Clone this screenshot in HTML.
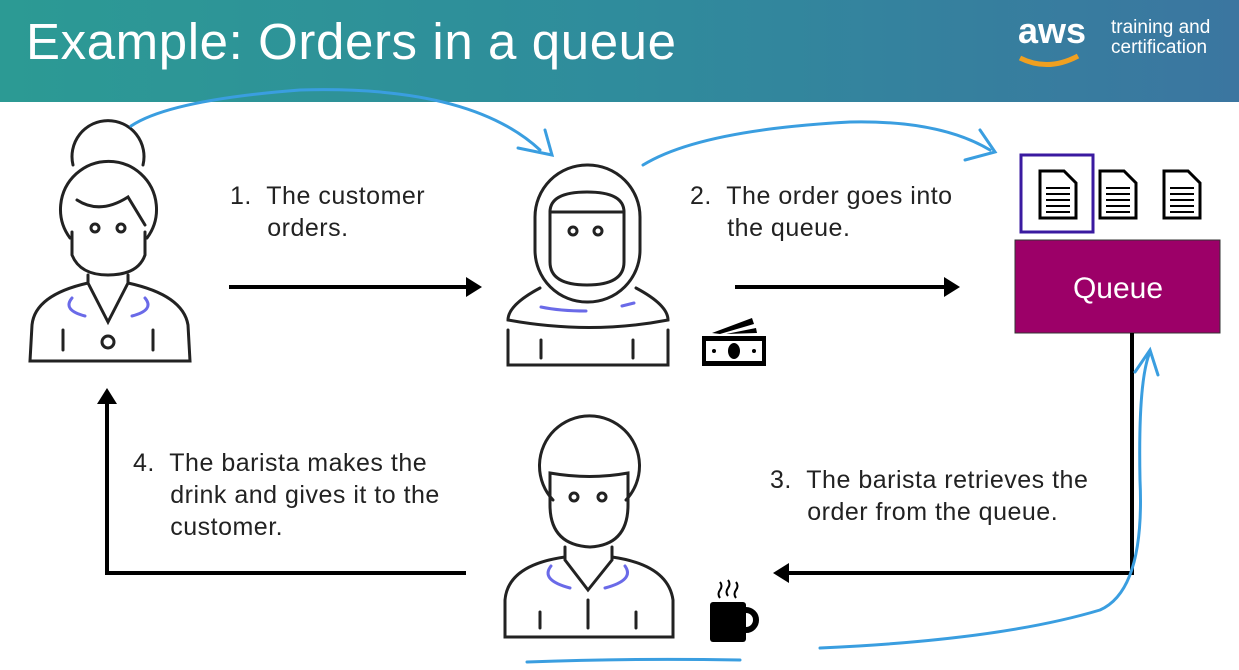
<!DOCTYPE html>
<html><head><meta charset="utf-8"><style>
body{margin:0;width:1239px;height:670px;overflow:hidden;background:#fff;font-family:"Liberation Sans",sans-serif}
.hdr{position:absolute;left:0;top:0;width:1239px;height:102px;background:linear-gradient(90deg,#2c9a94 0%,#2f8c9c 50%,#3b76a0 100%)}
.t{position:absolute;color:#222;font-size:25px;line-height:32px;letter-spacing:0.5px}
</style></head><body>
<div class="hdr"></div>
<div style="position:absolute;left:26px;top:12px;color:#fff;font-size:51px;letter-spacing:0.6px">Example: Orders in a queue</div>
<div style="position:absolute;left:1018px;top:10px;color:#fff;font-size:36px;font-weight:bold">aws</div>
<div style="position:absolute;left:1111px;top:18px;color:#fff;font-size:19px;line-height:20px">training and<br>certification</div>
<svg style="position:absolute;left:0;top:0" width="1239" height="670">
<path d="M1020 58 Q1048 72 1078 56" stroke="#f0a020" stroke-width="5" fill="none"/>
<g stroke="#222" stroke-width="3" fill="none" stroke-linecap="round">
<!-- customer -->
<path d="M73 165 A36 36 0 1 1 143 165"/>
<path d="M70 238 A48 48 0 1 1 147 238"/>
<path d="M77 200 Q100 215 128 197 L145 225"/>
<path d="M72 232 L72 255 Q80 275 108 275 Q138 275 145 255 L145 232"/>
<path d="M88 275 V283 L108 322 L128 283 V275"/>
<path d="M88 283 Q35 295 32 325 L30 361 H190 L188 325 Q183 295 128 283"/>
<path d="M63 330 V350 M153 330 V350"/><circle cx="108" cy="342" r="6"/>
<circle cx="95" cy="228" r="4"/><circle cx="121" cy="228" r="4"/>
<!-- cashier -->
<rect x="535" y="165" width="105" height="137" rx="52"/>
<path d="M550 212 H624 V262 Q624 285 587 285 Q550 285 550 262 Z"/>
<path d="M550 212 Q550 192 587 192 Q624 192 624 212"/>
<circle cx="573" cy="231" r="4"/><circle cx="598" cy="231" r="4"/>
<path d="M540 288 Q508 305 508 320 Q590 335 668 320 Q668 305 636 288"/>
<path d="M508 330 V365 H668 V330"/>
<path d="M541 340 V358 M633 340 V358"/>
<!-- barista -->
<path d="M553 500 A50 50 0 1 1 626 500"/>
<path d="M550 473 Q590 480 628 473 V505 Q628 545 590 547 Q550 545 550 505 Z"/>
<circle cx="574" cy="497" r="4"/><circle cx="602" cy="497" r="4"/>
<path d="M565 547 V560 L588 590 L612 560 V547"/>
<path d="M565 557 Q508 565 505 600 V637 H673 V600 Q668 565 612 557"/>
<path d="M540 612 V628 M588 600 V628 M636 612 V628"/>
</g>
<g stroke="#6a6ae8" stroke-width="3" fill="none" stroke-linecap="round">
<path d="M72 298 Q62 310 85 316 M145 298 Q155 310 132 316"/>
<path d="M541 307 Q560 311 586 311 M622 306 L634 303"/>
<path d="M551 566 Q540 580 570 588 M625 566 Q635 580 605 588"/>
</g>
<!-- money -->
<rect x="702" y="336" width="64" height="30" fill="#000"/>
<rect x="706" y="341" width="56" height="20" fill="#fff"/>
<ellipse cx="734" cy="351" rx="6" ry="8" fill="#000"/>
<circle cx="714" cy="351" r="2" fill="#000"/><circle cx="754" cy="351" r="2" fill="#000"/>
<path d="M712 333 L752 318 L754 324 L720 334 Z M726 334 L756 328 L757 333 Z" fill="#000"/>
<!-- coffee -->
<rect x="710" y="602" width="36" height="40" rx="3" fill="#000"/>
<path d="M746 610 A10 10 0 0 1 746 630" stroke="#000" stroke-width="6" fill="none"/>
<path d="M720 598 q-3 -4 0 -8 q3 -4 0 -8 M728 596 q-3 -4 0 -8 q3 -4 0 -8 M736 598 q-3 -4 0 -8 q3 -4 0 -8" stroke="#000" stroke-width="2" fill="none"/>
<!-- docs -->
<rect x="1021" y="155" width="72" height="77" fill="none" stroke="#3a1aa0" stroke-width="3"/>
<g stroke="#000" stroke-width="3" fill="#fff">
<path d="M1040 171 H1064 L1076 183 V218 H1040 Z"/>
<path d="M1100 171 H1124 L1136 183 V218 H1100 Z"/>
<path d="M1164 171 H1188 L1200 183 V218 H1164 Z"/>
</g>
<g stroke="#000" stroke-width="2">
<path d="M1046 188 H1070 M1046 194 H1070 M1046 200 H1070 M1046 206 H1070 M1046 212 H1070"/>
<path d="M1106 188 H1130 M1106 194 H1130 M1106 200 H1130 M1106 206 H1130 M1106 212 H1130"/>
<path d="M1170 188 H1194 M1170 194 H1194 M1170 200 H1194 M1170 206 H1194 M1170 212 H1194"/>
</g>
<rect x="1015" y="240" width="205" height="93" fill="#9c0068" stroke="#333" stroke-width="1"/>
<text x="1118" y="298" fill="#fff" font-size="30" text-anchor="middle" font-family="Liberation Sans">Queue</text>
<!-- black arrows -->
<g stroke="#000" stroke-width="4" fill="none">
<path d="M229 287 H472"/><path d="M735 287 H950"/>
<path d="M1132 333 V573 H785"/>
<path d="M466 573 H107 V400"/>
</g>
<g fill="#000">
<path d="M482 287 L466 277 L466 297 Z"/><path d="M960 287 L944 277 L944 297 Z"/>
<path d="M773 573 L789 563 L789 583 Z"/><path d="M107 388 L97 404 L117 404 Z"/>
</g>
<!-- blue annotations -->
<g stroke="#3a9ee0" stroke-width="3" fill="none" stroke-linecap="round">
<path d="M131 126 Q170 100 300 90 Q470 85 540 150 M518 148 L552 155 L545 130"/>
<path d="M643 165 Q700 130 850 122 Q940 120 990 150 M965 160 L995 152 L980 130"/>
<path d="M820 648 Q1000 640 1100 610 Q1145 590 1140 480 Q1138 380 1150 352 M1135 372 L1150 350 L1158 375"/>
<path d="M527 662 Q630 658 740 660"/>
</g>
</svg>
<div class="t" style="left:230px;top:180px">1.&nbsp; The customer<br>&nbsp;&nbsp;&nbsp;&nbsp;&nbsp;orders.</div>
<div class="t" style="left:690px;top:180px">2.&nbsp; The order goes into<br>&nbsp;&nbsp;&nbsp;&nbsp;&nbsp;the queue.</div>
<div class="t" style="left:770px;top:464px">3.&nbsp; The barista retrieves the<br>&nbsp;&nbsp;&nbsp;&nbsp;&nbsp;order from the queue.</div>
<div class="t" style="left:133px;top:447px">4.&nbsp; The barista makes the<br>&nbsp;&nbsp;&nbsp;&nbsp;&nbsp;drink and gives it to the<br>&nbsp;&nbsp;&nbsp;&nbsp;&nbsp;customer.</div>
</body></html>
